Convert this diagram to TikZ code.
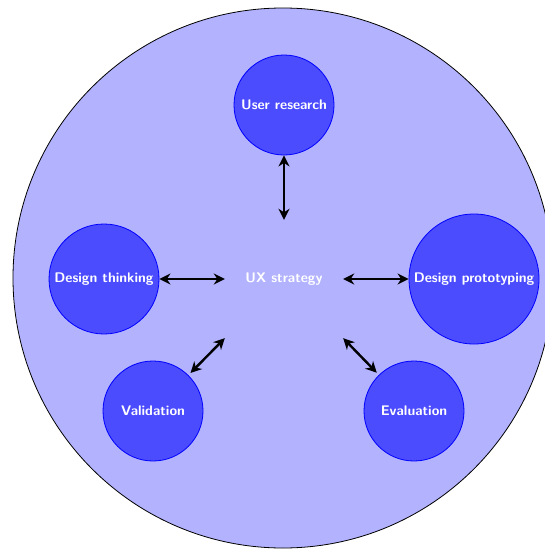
\documentclass[tikz,border=0pt]{standalone}
\usetikzlibrary{arrows.meta}
\begin{document}
\begin{tikzpicture}[x=1pt,y=-1pt,
    labelfont/.style={font=\fontsize{13.9}{16}\selectfont\sffamily\bfseries},
    hub/.style={rectangle, minimum width=118pt, minimum height=118pt,
      inner sep=0pt, text=white, labelfont},
    topic/.style={circle, draw=blue, line width=0.8pt, fill=blue!70,
      text=white, inner sep=2pt, labelfont},
    link/.style={{Stealth[length=11pt,width=11pt,inset=3.5pt]}-{Stealth[length=11pt,width=11pt,inset=3.5pt]},
      line width=2.4pt, black}]
  \useasboundingbox (0,0) rectangle (544,549);

  % outer disc
  \fill[blue!30, draw=black, line width=0.8pt] (283,278) circle (270);

  % central topic and its satellites
  \node[hub] (ux) at (284,279) {UX strategy};
  \node[topic, minimum size=100pt] (ur) at (284,105) {User research};
  \node[topic, minimum size=110pt] (dt) at (104,279) {Design thinking};
  \node[topic, minimum size=130pt] (dp) at (474,279) {Design prototyping};
  \node[topic, minimum size=100pt] (va) at (153,411) {Validation};
  \node[topic, minimum size=100pt] (ev) at (414,411) {Evaluation};

  % two-way links
  \draw[link] (ux.north) -- (ur);
  \draw[link] (ux.west) -- (dt);
  \draw[link] (ux.east) -- (dp);
  \draw[link, shorten >=3pt] (ux.south west) -- (va);
  \draw[link, shorten >=3pt] (ux.south east) -- (ev);
\end{tikzpicture}
\end{document}
